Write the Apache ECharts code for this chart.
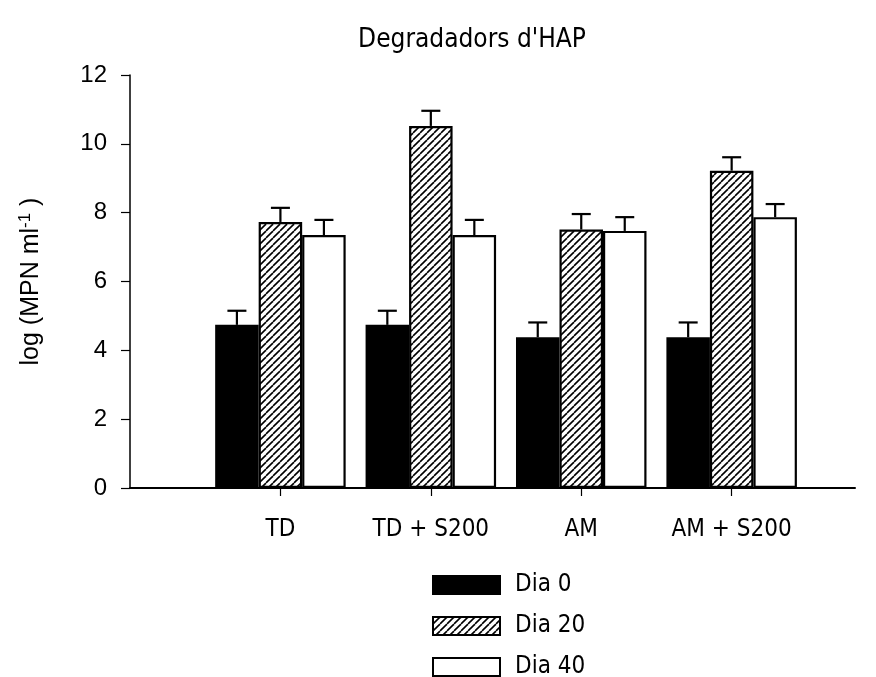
<!DOCTYPE html>
<html>
<head>
<meta charset="utf-8">
<script src="https://cdn.jsdelivr.net/npm/echarts@6/dist/echarts.min.js"></script>
<style>html,body{margin:0;padding:0;background:#fff}#c{width:876px;height:677px}</style>
</head>
<body>
<div id="c"></div>
<script>
const categories = ['TD', 'TD + S200', 'AM', 'AM + S200'];
const categoryPos = [1, 2, 3, 4];
const seriesNames = ['Dia 0', 'Dia 20', 'Dia 40'];
const dia0 = [4.74, 4.74, 4.38, 4.38];
const dia20 = [7.73, 10.52, 7.51, 9.22];
const dia40 = [7.35, 7.35, 7.47, 7.87];
const err0 = [0.41, 0.41, 0.43, 0.43];
const err20 = [0.41, 0.44, 0.45, 0.39];
const err40 = [0.44, 0.44, 0.40, 0.38];
const yTicks = [0, 2, 4, 6, 8, 10, 12];

const BAR_W = 43.5;
const FONT = '"DejaVu Sans Condensed", "DejaVu Sans", sans-serif';
const ARIAL = '"Liberation Sans", Arial, sans-serif';

// hatch pattern
const pat = document.createElement('canvas');
pat.width = 7; pat.height = 7;
const pc = pat.getContext('2d');
pc.fillStyle = '#fff'; pc.fillRect(0, 0, 7, 7);
pc.strokeStyle = '#000'; pc.lineWidth = 1.6;
for (const o of [-7, 0, 7]) {
  pc.beginPath(); pc.moveTo(o, 7); pc.lineTo(o + 7, 0); pc.stroke();
}

const values = [dia0, dia20, dia40];
const errs = [err0, err20, err40];
const fills = ['#000', { image: pat, repeat: 'repeat' }, '#fff'];

const series = [];
values.forEach((vals, i) => {
  series.push({
    name: seriesNames[i], type: 'bar', barWidth: BAR_W, barGap: '0%',
    data: vals.map((v, j) => [categoryPos[j], v]),
    itemStyle: { color: fills[i], borderColor: '#000', borderWidth: 2.2 },
    emphasis: { disabled: true }
  });
});
values.forEach((vals, i) => {
  series.push({
    type: 'custom', z: 10, silent: true,
    data: vals.map((v, j) => [categoryPos[j], v, v + errs[i][j]]),
    renderItem: (params, api) => {
      const b = api.coord([api.value(0), api.value(1)]);
      const t = api.coord([api.value(0), api.value(2)]);
      const x = b[0] + (i - 1) * BAR_W;
      const cap = 9.5;
      return { type: 'group', children: [
        { type: 'line', shape: { x1: x, y1: b[1], x2: x, y2: t[1] }, style: { stroke: '#000', lineWidth: 2.2 } },
        { type: 'line', shape: { x1: x - cap, y1: t[1], x2: x + cap, y2: t[1] }, style: { stroke: '#000', lineWidth: 2.2 } }
      ]};
    }
  });
});

const chart = echarts.init(document.getElementById('c'), null, { renderer: 'canvas' });
chart.setOption({
  animation: false,
  backgroundColor: '#fff',
  title: { text: "Degradadors d'HAP", left: 472, top: 27, textAlign: 'center', padding: 0,
    textStyle: { fontFamily: FONT, fontWeight: 'normal', fontSize: 26, color: '#000' } },
  grid: { left: 130, right: 21, top: 75, bottom: 189 },
  legend: {
    data: seriesNames, orient: 'vertical', left: 432, top: 573, height: 200, padding: 0,
    icon: 'rect', itemWidth: 67, itemHeight: 18, itemGap: 17,
    textStyle: { fontFamily: FONT, fontSize: 24, color: '#000', lineHeight: 18, padding: [0, 0, 0, 10] }
  },
  xAxis: {
    type: 'value', min: 0, max: 4.82,
    splitLine: { show: false },
    axisLine: { show: true, lineStyle: { color: '#000', width: 2 } },
    axisTick: { show: true, customValues: categoryPos, length: 8, lineStyle: { color: '#000', width: 1.2 } },
    axisLabel: { customValues: categoryPos, formatter: v => categories[Math.round(v) - 1] || '',
      margin: 30, fontFamily: FONT, fontSize: 24, color: '#000' }
  },
  yAxis: {
    type: 'value', min: 0, max: 12, interval: 2,
    name: '{n|log (MPN ml}{s|-1}{n| )}', nameLocation: 'middle', nameGap: 84, nameRotate: 90,
    nameTextStyle: { rich: {
      n: { fontFamily: ARIAL, fontSize: 25, color: '#000' },
      s: { fontFamily: ARIAL, fontSize: 17, color: '#000', verticalAlign: 'top', padding: [0, 0, 12, 0] }
    } },
    splitLine: { show: false },
    axisLine: { show: true, lineStyle: { color: '#000', width: 1.5 } },
    axisTick: { show: true, length: 9, lineStyle: { color: '#000', width: 1.2 } },
    axisLabel: { margin: 23, fontFamily: ARIAL, fontSize: 24, color: '#000' }
  },
  series: series
});
</script>
</body>
</html>
